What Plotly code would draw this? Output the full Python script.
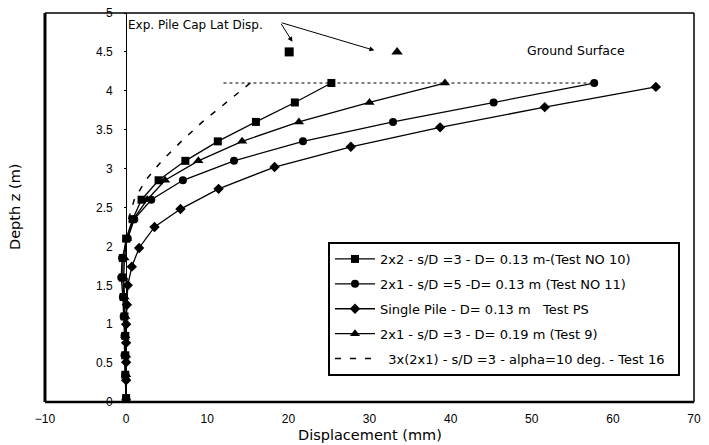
import plotly.graph_objects as go

# ---------------- data ----------------
depth_a = [4.1, 3.85, 3.6, 3.35, 3.1, 2.85, 2.6, 2.35, 2.1, 1.85, 1.6, 1.35, 1.1, 0.85, 0.6, 0.35, 0.05, 0.0]
disp_2x2_s3 = [25.3, 20.8, 16.0, 11.3, 7.3, 4.0, 1.9, 0.8, 0.0, -0.4, -0.4, -0.3, -0.2, -0.1, -0.1, -0.1, 0.0, 0.0]
disp_2x1_s5 = [57.7, 45.3, 32.9, 21.8, 13.3, 7.0, 3.1, 1.0, 0.2, -0.5, -0.6, -0.4, -0.3, -0.2, -0.2, -0.1, 0.0, 0.0]
disp_2x1_s3 = [39.3, 30.0, 21.3, 14.3, 8.9, 4.8, 2.6, 0.9, 0.1, -0.2, -0.3, -0.2, -0.1, -0.1, 0.0, 0.0, 0.0, 0.0]

depth_b = [4.05, 3.79, 3.53, 3.28, 3.02, 2.74, 2.48, 2.25, 1.98, 1.74, 1.5, 1.25, 1.0, 0.76, 0.51, 0.28, 0.0]
disp_single = [65.3, 51.6, 38.7, 27.7, 18.3, 11.4, 6.7, 3.5, 1.6, 0.7, 0.2, 0.1, 0.0, 0.0, 0.0, 0.0, 0.0]

depth_t16 = [4.1, 3.85, 3.6, 3.35, 3.1, 2.85, 2.6, 2.35]
disp_t16 = [15.3, 12.4, 9.4, 6.8, 4.4, 2.4, 1.0, 0.3]

exp_cap_depth = [4.5]
exp_cap_2x2 = [20.1]
exp_cap_2x1_s3 = [33.4]

ground_depth = 4.1
ground_x = [12.0, 58.0]

names = [
    "2x2 - s/D =3 - D= 0.13 m-(Test NO 10)",
    "2x1 - s/D =5 -D= 0.13 m (Test NO 11)",
    "Single Pile - D= 0.13 m   Test PS",
    "2x1 - s/D =3 - D= 0.19 m (Test 9)",
    "\u00a0\u00a03x(2x1) - s/D =3 - alpha=10 deg. - Test 16\u00a0\u00a0",
]

x_ticks = [-10, 0, 10, 20, 30, 40, 50, 60, 70]
y_ticks = [0, 0.5, 1, 1.5, 2, 2.5, 3, 3.5, 4, 4.5, 5]

FONT = "Liberation Sans, Arial, sans-serif"
WIDE = "DejaVu Sans, Verdana, sans-serif"
BLACK = "#000000"

fig = go.Figure()

# ground surface dotted line
fig.add_trace(go.Scatter(x=ground_x, y=[ground_depth] * len(ground_x), mode="lines",
                         line=dict(color=BLACK, width=1, dash="dot"), showlegend=False,
                         hoverinfo="skip"))

series = [
    (disp_2x2_s3, depth_a, "square", 8, names[0]),
    (disp_2x1_s5, depth_a, "circle", 8, names[1]),
    (disp_single, depth_b, "diamond", 8, names[2]),
    (disp_2x1_s3, depth_a, "triangle-up", 9, names[3]),
]
for i, (xs, ys, sym, sz, nm) in enumerate(series):
    fig.add_trace(go.Scatter(x=xs, y=ys, mode="lines+markers", name=nm,
                             line=dict(color=BLACK, width=1.3),
                             marker=dict(symbol=sym, size=sz, color=BLACK),
                             legendgroup=f"g{i}"))

fig.add_trace(go.Scatter(x=disp_t16, y=depth_t16, mode="lines", name=names[4],
                         line=dict(color=BLACK, width=1.5, dash="6px,9px"),
                         legendgroup="g4"))

# experimental pile cap displacement
fig.add_trace(go.Scatter(x=exp_cap_2x2, y=exp_cap_depth, mode="markers",
                         marker=dict(symbol="square", size=9, color=BLACK), showlegend=False))
fig.add_trace(go.Scatter(x=exp_cap_2x1_s3, y=exp_cap_depth, mode="markers",
                         marker=dict(symbol="triangle-up", size=10, color=BLACK), showlegend=False))

# The page body has an 8px default margin; size the figure so it fills the window.
OFF = 8
W, H = 709 - OFF, 445 - OFF
PX0, PX1, PY0, PY1 = 45, 694, 13, 402   # plot area in window pixels
L, R = PX0 - OFF, W - (PX1 - OFF)
T, B = PY0 - OFF, H - (PY1 - OFF)
pw, ph = PX1 - PX0, PY1 - PY0


def px(X):
    return (X - PX0) / pw


def py(Y):
    return (PY1 - Y) / ph


annotations = [
    dict(x=0.0, y=4.84, xref="x", yref="y", text="Exp. Pile Cap Lat Disp.", showarrow=False,
         xanchor="left", yanchor="middle", font=dict(family=WIDE, size=12, color=BLACK)),
    dict(x=55.5, y=4.52, xref="x", yref="y", text="Ground Surface", showarrow=False,
         xanchor="center", yanchor="middle", font=dict(family=WIDE, size=12.5, color=BLACK)),
    dict(x=20.5, y=4.63, ax=19.0, ay=4.88, xref="x", yref="y", axref="x", ayref="y",
         text="", showarrow=True, arrowhead=2, arrowsize=1, arrowwidth=1, arrowcolor=BLACK),
    dict(x=30.6, y=4.52, ax=19.0, ay=4.88, xref="x", yref="y", axref="x", ayref="y",
         text="", showarrow=True, arrowhead=2, arrowsize=1, arrowwidth=1, arrowcolor=BLACK),
    dict(x=px(370), y=py(435), xref="paper", yref="paper", xanchor="center", yanchor="middle",
         text="Displacement (mm)", showarrow=False,
         font=dict(family=WIDE, size=14.5, color=BLACK)),
    dict(x=px(15), y=py(207), xref="paper", yref="paper", xanchor="center", yanchor="middle",
         text="Depth z (m)", showarrow=False,
         textangle=-90, font=dict(family=WIDE, size=14.5, color=BLACK)),
]

shapes = [
    dict(type="line", xref="paper", yref="paper", x0=0, x1=0, y0=0, y1=1, line=dict(color=BLACK, width=3)),
    dict(type="line", xref="paper", yref="paper", x0=0, x1=1, y0=0, y1=0, line=dict(color=BLACK, width=2.5)),
    dict(type="line", xref="paper", yref="paper", x0=0, x1=1, y0=1, y1=1, line=dict(color=BLACK, width=1.5)),
    dict(type="line", xref="paper", yref="paper", x0=1, x1=1, y0=0, y1=1, line=dict(color=BLACK, width=1.5)),
]

fig.update_layout(
    width=W, height=H,
    margin=dict(l=L, r=R, t=T, b=B, pad=0, autoexpand=False),
    paper_bgcolor="white", plot_bgcolor="white",
    font=dict(family=FONT, size=12, color=BLACK),
    xaxis=dict(range=[-10, 70], tickvals=x_ticks, showgrid=False, zeroline=False,
               showline=False, ticks="", ticklabelstandoff=8, automargin=False,
               tickfont=dict(family=FONT, size=12, color=BLACK)),
    yaxis=dict(range=[0, 5], tickvals=y_ticks, showgrid=False, zeroline=False,
               anchor="free", position=0.125, showline=True, linecolor=BLACK, linewidth=1,
               ticks="outside", ticklen=2, tickcolor=BLACK, ticklabelstandoff=9,
               automargin=False, ticklabeloverflow="allow",
               tickfont=dict(family=FONT, size=12, color=BLACK)),
    legend=dict(x=px(328), y=py(242), xanchor="left", yanchor="top",
                bordercolor=BLACK, borderwidth=2, bgcolor="white",
                font=dict(family=WIDE, size=13, color=BLACK),
                itemwidth=40,
                traceorder="grouped", tracegroupgap=5),
    annotations=annotations,
    shapes=shapes,
)

fig.write_html("out.html")
